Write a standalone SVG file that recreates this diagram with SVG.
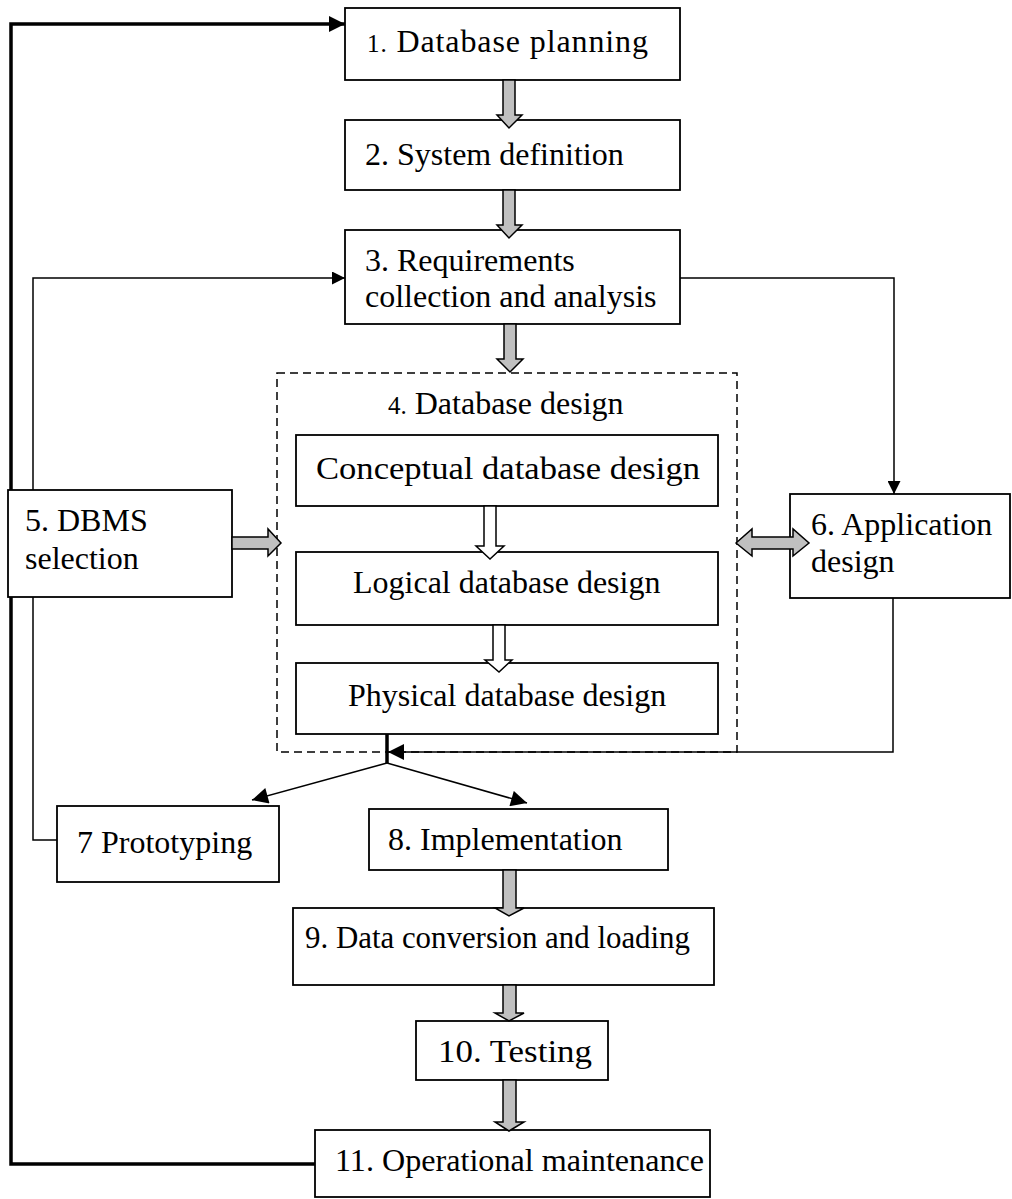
<svg xmlns="http://www.w3.org/2000/svg" width="1012" height="1199" viewBox="0 0 1012 1199">
  <defs>
    <marker id="ah" viewBox="0 0 10 10" refX="10" refY="5" markerWidth="13" markerHeight="13" markerUnits="userSpaceOnUse" orient="auto">
      <path d="M0,0 L10,5 L0,10 Z" fill="#000"/>
    </marker>
    <marker id="ahBig" viewBox="0 0 10 10" refX="10" refY="5" markerWidth="17" markerHeight="16" markerUnits="userSpaceOnUse" orient="auto">
      <path d="M0,0 L10,5 L0,10 Z" fill="#000"/>
    </marker>
  </defs>
  <style>
    .box { fill: #fff; stroke: #000; stroke-width: 1.8; }
    .frame { fill: none; stroke: #000; stroke-width: 1.5; stroke-dasharray: 8 5; }
    .t { font-family: "Liberation Serif", "Times New Roman", serif; font-size: 32px; fill: #000; }
    .n { font-size: 25px; }
    .block { fill: #c0c0c0; stroke: #000; stroke-width: 1.5; stroke-linejoin: miter; }
    .hollow { fill: #fff; stroke: #000; stroke-width: 1.5; }
    .line { fill: none; stroke: #000; stroke-width: 1.5; }
    .thick { fill: none; stroke: #000; stroke-width: 3.5; }
  </style>

  <rect width="1012" height="1199" fill="#fff"/>

  <!-- line connectors -->
  <g id="connectors">
    <!-- outer feedback loop: maintenance back to planning -->
    <path class="thick" d="M315,1164 H11 V24 H345" marker-end="url(#ahBig)"/>
    <!-- prototyping back to requirements -->
    <path class="line" d="M57,840 H33 V278 H345" marker-end="url(#ah)"/>
    <!-- requirements to application design -->
    <path class="line" d="M680,278 H894 V494" marker-end="url(#ah)"/>
    <!-- application design down to the junction -->
    <path class="line" d="M893,598 V752 H388" marker-end="url(#ahBig)"/>
    <!-- junction stem under physical design -->
    <path d="M387,734 V763" stroke="#000" stroke-width="3.5" fill="none"/>
    <path class="line" d="M387,763 L252,800" marker-end="url(#ahBig)"/>
    <path class="line" d="M387,763 L527,803" marker-end="url(#ahBig)"/>
  </g>

  <!-- 4. Database design frame -->
  <g id="n4">
    <rect class="frame" x="277" y="373" width="460" height="379"/>
    <text class="t" x="388" y="414"><tspan class="n">4.</tspan> Database design</text>
  </g>
  <g id="n4a">
    <rect class="box" x="296" y="435" width="422" height="71"/>
    <text class="t" x="316" y="479" textLength="384" lengthAdjust="spacingAndGlyphs">Conceptual database design</text>
  </g>
  <g id="n4b">
    <rect class="box" x="296" y="552" width="422" height="73"/>
    <text class="t" x="353" y="593">Logical database design</text>
  </g>
  <g id="n4c">
    <rect class="box" x="296" y="663" width="422" height="71"/>
    <text class="t" x="348" y="706">Physical database design</text>
  </g>

  <g id="n1">
    <rect class="box" x="345" y="8" width="335" height="72"/>
    <text class="t" x="367" y="52" textLength="281" lengthAdjust="spacing"><tspan class="n">1.</tspan> Database planning</text>
  </g>
  <g id="n2">
    <rect class="box" x="345" y="120" width="335" height="70"/>
    <text class="t" x="365" y="165">2. System definition</text>
  </g>
  <g id="n3">
    <rect class="box" x="345" y="230" width="335" height="94"/>
    <text class="t" x="365" y="271">3. Requirements</text>
    <text class="t" x="365" y="307">collection and analysis</text>
  </g>
  <g id="n5">
    <rect class="box" x="8" y="490" width="224" height="107"/>
    <text class="t" x="25" y="531">5. DBMS</text>
    <text class="t" x="25" y="569">selection</text>
  </g>
  <g id="n6">
    <rect class="box" x="790" y="494" width="220" height="104"/>
    <text class="t" x="811" y="535">6. Application</text>
    <text class="t" x="811" y="572">design</text>
  </g>
  <g id="n7">
    <rect class="box" x="57" y="806" width="222" height="76"/>
    <text class="t" x="77" y="853">7 Prototyping</text>
  </g>
  <g id="n8">
    <rect class="box" x="369" y="809" width="299" height="61"/>
    <text class="t" x="388" y="850">8. Implementation</text>
  </g>
  <g id="n9">
    <rect class="box" x="293" y="908" width="421" height="77"/>
    <text class="t" x="305" y="948" textLength="385" lengthAdjust="spacingAndGlyphs">9. Data conversion and loading</text>
  </g>
  <g id="n10">
    <rect class="box" x="416" y="1021" width="192" height="59"/>
    <text class="t" x="438" y="1062" textLength="154" lengthAdjust="spacingAndGlyphs">10. Testing</text>
  </g>
  <g id="n11">
    <rect class="box" x="315" y="1130" width="395" height="67"/>
    <text class="t" x="335" y="1171" textLength="369" lengthAdjust="spacingAndGlyphs">11. Operational maintenance</text>
  </g>

  <!-- block arrows between stages -->
  <g id="block-arrows">
    <path class="block" d="M503,80 V115 H497 L509,128 L522,115 H515 V80 Z"/>
    <path class="block" d="M503,190 V225 H497 L509,238 L522,225 H515 V190 Z"/>
    <path class="block" d="M504,324 V359 H497 L510,372 L523,359 H516 V324 Z"/>
    <path class="hollow" d="M484,506 V546 H476 L490,559 L504,546 H496 V506 Z"/>
    <path class="hollow" d="M493,625 V660 H485 L499,672 L512,660 H505 V625 Z"/>
    <path class="block" d="M503,870 V908 H495 L509,916 L524,908 H516 V870 Z"/>
    <path class="block" d="M503,985 V1013 H495 L509,1021 L524,1013 H516 V985 Z"/>
    <path class="block" d="M503,1080 V1122 H495 L509,1131 L524,1122 H516 V1080 Z"/>
    <!-- DBMS selection into design -->
    <path class="block" d="M232,537 H268 V529 L281,543 L268,556 V549 H232 Z"/>
    <!-- two-way link between design and application design -->
    <path class="block" d="M736,543 L752,529 V537 H793 V529 L809,543 L793,556 V549 H752 V556 Z"/>
  </g>
</svg>
